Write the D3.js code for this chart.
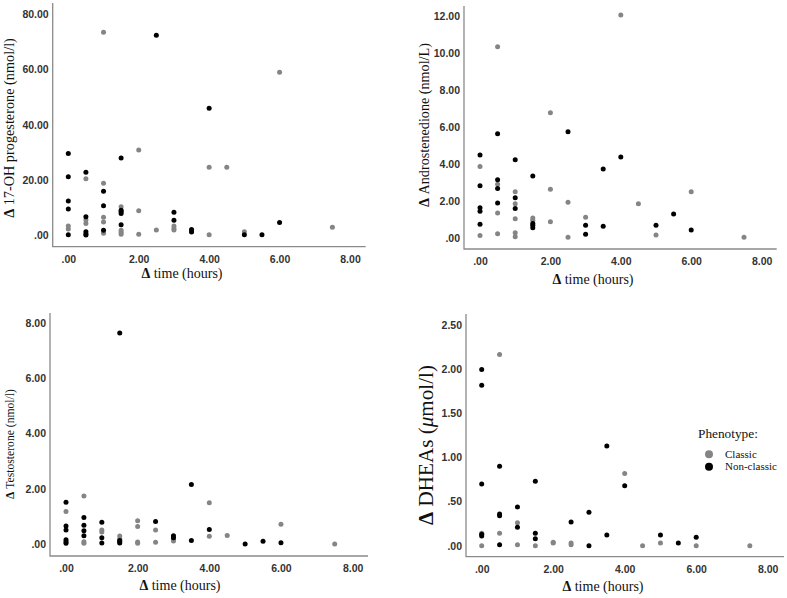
<!DOCTYPE html>
<html><head><meta charset="utf-8">
<script src="https://cdn.jsdelivr.net/npm/d3@7"></script>
<style>body{margin:0;background:#fff}svg{display:block}</style>
</head><body>
<svg id="c" width="787" height="598"></svg>
<script>
// ---- data ----
const xTicks = [0, 2, 4, 6, 8];
const ohpTicks = [0, 20, 40, 60, 80];
const androTicks = [0, 2, 4, 6, 8, 10, 12];
const testoTicks = [0, 2, 4, 6, 8];
const dheasTicks = [0, 0.5, 1, 1.5, 2, 2.5];
const phenotypes = ["Classic", "Non-classic"];

const ohpClassic = [[0,3.4],[0,2.3],[0.5,20.4],[0.5,5.5],[0.5,4.3],[1,73.4],[1,18.8],[1,6.5],[1,4.8],[1,0.7],
  [1.5,10.3],[1.5,1.8],[1.5,1.1],[1.5,0.4],[2,30.8],[2,8.9],[2,0.4],[2.5,1.9],[3,3.4],[3,2.5],[3,1.9],
  [3.5,1.6],[4,24.6],[4,0.2],[4.5,24.6],[5,1.3],[6,58.9],[7.5,2.9]];
const ohpNonClassic = [[0,29.6],[0,21.2],[0,12.4],[0,9.5],[0,0.2],[0.5,22.8],[0.5,6.7],[0.5,1.3],[0.5,0.5],[0.5,0.1],
  [1,15.9],[1,10.7],[1,1.8],[1.5,27.9],[1.5,9.1],[1.5,8.5],[1.5,7.9],[1.5,3.8],[2.5,72.3],[3,8.3],[3,5.4],
  [3.5,2.1],[3.5,1.2],[4,45.9],[5,0.2],[5.5,0.2],[6,4.6]];

const androClassic = [[0,3.86],[0,0.13],[0.5,10.34],[0.5,2.9],[0.5,1.35],[0.5,0.23],[1,2.5],[1,1.85],[1,1.04],[1,0.29],[1,0.07],
  [1.5,1.08],[1.5,0.96],[2,6.77],[2,2.63],[2,0.88],[2.5,1.93],[2.5,0.04],[3,1.12],[4,12.05],[4.5,1.85],[5,0.16],[6,2.5],[7.5,0.04]];
const androNonClassic = [[0,4.49],[0,2.83],[0,1.64],[0,1.45],[0,0.74],[0.5,5.64],[0.5,3.15],[0.5,2.68],[0.5,1.89],
  [1,4.23],[1,2.18],[1,1.6],[1.5,3.35],[1.5,0.79],[1.5,0.69],[1.5,0.56],[2.5,5.75],[3,0.69],[3,0.2],
  [3.5,3.73],[3.5,0.63],[4,4.38],[5,0.69],[5.5,1.3],[6,0.43]];

const testoClassic = [[0,1.18],[0.5,1.74],[0.5,0.09],[0.5,0.04],[1,0.52],[1,0.44],[1.5,0.3],[1.5,0.19],[2,0.85],[2,0.64],
  [2,0.08],[2,0.04],[2.5,0.52],[2.5,0.07],[3,0.18],[3,0.12],[4,1.5],[4,0.29],[4.5,0.32],[6,0.72],[7.5,0.01]];
const testoNonClassic = [[0,1.52],[0,0.66],[0,0.52],[0,0.16],[0,0.09],[0,0.04],[0.5,0.97],[0.5,0.69],[0.5,0.49],[0.5,0.31],
  [1,0.8],[1,0.24],[1,0.05],[1.5,7.63],[1.5,0.14],[1.5,0.09],[1.5,0.05],[2.5,0.82],[3,0.31],[3,0.24],
  [3.5,2.16],[3.5,0.14],[4,0.53],[5,0.01],[5.5,0.11],[6,0.06]];

const dheasClassic = [[0,0.14],[0,0.0],[0.5,2.17],[0.5,0.14],[1,0.26],[1,0.01],[1.5,0.0],[2,0.04],[2,0.03],
  [2.5,0.03],[2.5,0.01],[4,0.82],[4.5,0.0],[5,0.03],[6,0.0],[7.5,0.0]];
const dheasNonClassic = [[0,2.0],[0,1.82],[0,0.70],[0,0.13],[0,0.11],[0.5,0.90],[0.5,0.36],[0.5,0.34],[0.5,0.01],
  [1,0.44],[1,0.21],[1.5,0.73],[1.5,0.14],[1.5,0.08],[2.5,0.27],[3,0.38],[3,0.0],[3.5,1.13],[3.5,0.12],
  [4,0.68],[5,0.12],[5.5,0.03],[6,0.095]];

// ---- layout ----
const colors = {Classic: "#858585", "Non-classic": "#000000"};
const panels = [
  {classic: ohpClassic, non: ohpNonClassic, yTicks: ohpTicks, ytitle: ["17-OH progesterone (nmol/l)"],
   frame: {l: 52.7, r: 365.7, t: 3, b: 246.7}, x: [68.3, 350], y: [235.3, 14],
   yt: {x: 14, cy: 128, len: 180}, xt: {cx: 182, by: 278}},
  {classic: androClassic, non: androNonClassic, yTicks: androTicks, ytitle: ["Androstenedione (nmol/L)"],
   frame: {l: 464, r: 776.7, t: 6, b: 249}, x: [480, 761.6], y: [238, 16],
   yt: {x: 429, cy: 125, len: 164}, xt: {cx: 593, by: 284}},
  {classic: testoClassic, non: testoNonClassic, yTicks: testoTicks, ytitle: ["Testosterone (nmol/l)"],
   frame: {l: 50, r: 368, t: 313, b: 556}, x: [66, 352.6], y: [544.3, 322.7],
   yt: {x: 14, cy: 444, len: 110}, xt: {cx: 180, by: 590}},
  {classic: dheasClassic, non: dheasNonClassic, yTicks: dheasTicks, ytitle: ["DHEAs (", "μ", "mol/l)"],
   frame: {l: 466, r: 784, t: 314, b: 556.7}, x: [481.7, 767.7], y: [545.7, 325.3],
   yt: {x: 433, cy: 445, len: 160}, xt: {cx: 603, by: 591}}
];

const svg = d3.select("#c");
const fmt = v => d3.format(".2f")(v).replace(/^0\./, ".");
const sans = "'Liberation Sans', Arial, sans-serif";
const serif = "'Liberation Serif', 'Times New Roman', serif";

panels.forEach(p => {
  const xs = d3.scaleLinear().domain([0, 8]).range(p.x);
  const ys = d3.scaleLinear().domain([0, p.yTicks[p.yTicks.length - 1]]).range(p.y);
  const g = svg.append("g");
  const f = p.frame;

  // y axis (SPSS style: line, no tick marks)
  const yAxis = d3.axisLeft(ys).tickValues(p.yTicks).tickFormat(fmt).tickSize(0).tickPadding(4);
  const ga = g.append("g").attr("transform", `translate(${f.l},0)`).call(yAxis);
  ga.select(".domain").remove();
  ga.selectAll("text").attr("font-family", sans).attr("font-size", 10.5).attr("font-weight", "bold").attr("fill", "#333");

  const xAxis = d3.axisBottom(xs).tickValues(xTicks).tickFormat(fmt).tickSize(0).tickPadding(9);
  const gx = g.append("g").attr("transform", `translate(0,${f.b})`).call(xAxis);
  gx.select(".domain").remove();
  gx.selectAll("text").attr("font-family", sans).attr("font-size", 10.5).attr("font-weight", "bold").attr("fill", "#333");

  g.append("path").attr("d", `M${f.l},${f.t}V${f.b}H${f.r}`)
    .attr("fill", "none").attr("stroke", "#8a8a8a").attr("stroke-width", 1.3);

  // points
  [[p.classic, "Classic"], [p.non, "Non-classic"]].forEach(([arr, k]) => {
    g.append("g").selectAll("circle").data(arr).join("circle")
      .attr("cx", d => xs(d[0])).attr("cy", d => ys(d[1])).attr("r", 2.5)
      .attr("fill", colors[k]);
  });

  // x title
  const xt = g.append("text").attr("x", p.xt.cx).attr("y", p.xt.by).attr("text-anchor", "middle")
    .attr("font-family", serif).attr("font-size", 14).attr("fill", "#111");
  xt.append("tspan").attr("font-weight", "bold").text("Δ");
  xt.append("tspan").text(" time (hours)");

  // y title
  const yt = g.append("text").attr("transform", `translate(${p.yt.x},${p.yt.cy}) rotate(-90)`)
    .attr("text-anchor", "middle").attr("font-family", serif).attr("font-size", 14).attr("fill", "#111");
  yt.append("tspan").attr("font-weight", "bold").text("Δ");
  p.ytitle.forEach((s, i) => {
    const t = yt.append("tspan").text((i === 0 ? " " : "") + s);
    if (s === "μ") t.attr("font-style", "italic");
  });
  const L = yt.node().getComputedTextLength();
  if (L > 0) yt.attr("font-size", 14 * p.yt.len / L);
});

// legend
const lg = svg.append("g");
lg.append("text").attr("x", 698).attr("y", 438).attr("font-family", serif).attr("font-size", 13.3)
  .attr("fill", "#111").text("Phenotype:");
phenotypes.forEach((k, i) => {
  const cy = 454.3 + i * 12.4;
  lg.append("circle").attr("cx", 709).attr("cy", cy).attr("r", 4).attr("fill", colors[k]);
  lg.append("text").attr("x", 725).attr("y", cy + 3.6).attr("font-family", serif).attr("font-size", 11)
    .attr("fill", "#111").text(k);
});
</script>
</body></html>
